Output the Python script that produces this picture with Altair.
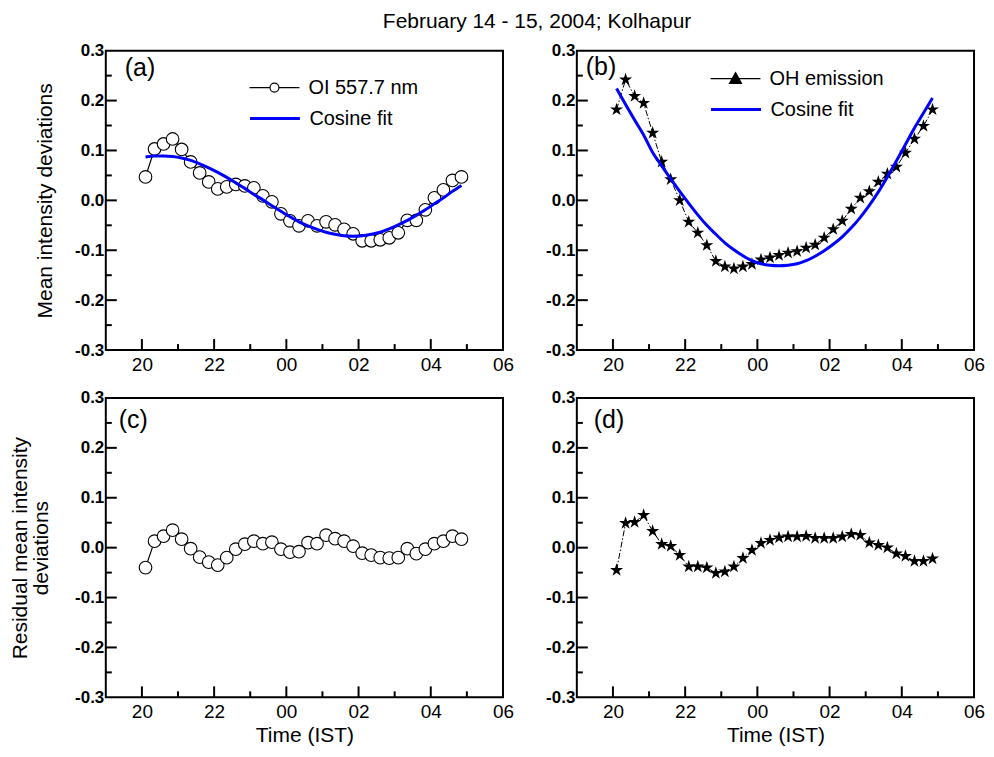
import altair as alt
import pandas as pd

FONT = "Liberation Sans"

# ---------------- data ----------------
times = [20.10, 20.35, 20.60, 20.85, 21.10, 21.35, 21.60, 21.85, 22.10, 22.35, 22.60, 22.85,
         23.10, 23.35, 23.60, 23.85, 24.10, 24.35, 24.60, 24.85, 25.10, 25.35, 25.60, 25.85,
         26.10, 26.35, 26.60, 26.85, 27.10, 27.35, 27.60, 27.85, 28.10, 28.35, 28.60, 28.85]

oi_intensity = [0.047, 0.103, 0.113, 0.123, 0.102, 0.077, 0.055, 0.037, 0.023, 0.027, 0.032, 0.029,
                0.025, 0.009, -0.003, -0.027, -0.041, -0.051, -0.041, -0.051, -0.043, -0.049, -0.058, -0.067,
                -0.081, -0.081, -0.079, -0.075, -0.065, -0.040, -0.040, -0.019, 0.005, 0.021, 0.040, 0.047]

oi_cosine_fit = [0.087, 0.089, 0.089, 0.088, 0.085, 0.080, 0.073, 0.065, 0.056, 0.046, 0.035, 0.024,
                 0.012, 0.001, -0.011, -0.022, -0.033, -0.043, -0.051, -0.058, -0.064, -0.068, -0.071, -0.072,
                 -0.071, -0.068, -0.064, -0.057, -0.049, -0.040, -0.030, -0.019, -0.007, 0.005, 0.018, 0.030]

oi_residual = [-0.040, 0.013, 0.023, 0.035, 0.017, -0.002, -0.019, -0.029, -0.035, -0.020, -0.003, 0.007,
               0.013, 0.008, 0.011, -0.003, -0.009, -0.008, 0.010, 0.008, 0.025, 0.018, 0.013, 0.003,
               -0.011, -0.015, -0.020, -0.021, -0.020, -0.002, -0.012, -0.003, 0.008, 0.013, 0.023, 0.017]

oh_intensity = [0.182, 0.242, 0.209, 0.195, 0.135, 0.077, 0.042, 0.000, -0.043, -0.065, -0.090, -0.122,
                -0.133, -0.137, -0.133, -0.128, -0.119, -0.115, -0.110, -0.105, -0.102, -0.095, -0.089, -0.075,
                -0.058, -0.041, -0.017, 0.005, 0.018, 0.037, 0.053, 0.067, 0.095, 0.123, 0.149, 0.182]

oh_cosine_fit = [0.224, 0.192, 0.161, 0.131, 0.096, 0.069, 0.043, 0.018, -0.006, -0.029, -0.050, -0.068,
                 -0.085, -0.099, -0.111, -0.121, -0.127, -0.130, -0.131, -0.130, -0.127, -0.121, -0.112, -0.101,
                 -0.088, -0.073, -0.055, -0.034, -0.010, 0.017, 0.047, 0.079, 0.112, 0.145, 0.175, 0.205]

oh_residual = [-0.045, 0.049, 0.051, 0.065, 0.033, 0.007, 0.003, -0.015, -0.038, -0.038, -0.040, -0.051,
               -0.048, -0.038, -0.021, -0.005, 0.009, 0.015, 0.020, 0.022, 0.022, 0.023, 0.019, 0.019,
               0.019, 0.022, 0.027, 0.025, 0.010, 0.005, 0.000, -0.012, -0.017, -0.027, -0.027, -0.022]

x_label_values = [20, 22, 24, 26, 28, 30]
x_major_ticks = [20, 22, 24, 26, 28]
x_minor_ticks = [21, 23, 25, 27, 29]
y_label_values = [-0.3, -0.2, -0.1, 0.0, 0.1, 0.2, 0.3]
y_major_ticks = [-0.2, -0.1, 0.0, 0.1, 0.2]
y_minor_ticks = [-0.25, -0.15, -0.05, 0.05, 0.15, 0.25]

panel_tags = ["(a)", "(b)", "(c)", "(d)"]
oi_name = "OI 557.7 nm"
oh_name = "OH emission"
fit_name = "Cosine fit"
title_text = "February 14 - 15, 2004; Kolhapur"
ytitle_top = "Mean intensity deviations"
ytitle_bottom = ["Residual mean intensity", "deviations"]
xtitle = "Time (IST)"

# ---------------- styling ----------------
W, H = 398, 300
MAJ, MIN = 11, 6
BLUE = "#0000ff"

STAR = ("M0,-1L0.225,-0.309L0.951,-0.309L0.363,0.118L0.588,0.809L0,0.382"
        "L-0.588,0.809L-0.363,0.118L-0.951,-0.309L-0.225,-0.309Z")
LEG_CIRCLE = ("M-1,0L-0.18,0M0.18,0L1,0M0.18,0A0.18,0.18,0,1,1,-0.18,0"
              "A0.18,0.18,0,1,1,0.18,0Z")
LEG_TRIANGLE = "M-1,0L1,0M0,-0.24L0.24,0.19L-0.24,0.19Z"

XS = alt.Scale(domain=[19, 30], nice=False, zero=False)
YS = alt.Scale(domain=[-0.3, 0.3], nice=False, zero=False)

XLAB = "datum.value >= 24 ? '0' + (datum.value - 24) : '' + datum.value"
YLAB = "datum.value < -0.001 ? '-' + format(-datum.value, '.1f') : format(abs(datum.value), '.1f')"


def x_enc(bottom):
    kw = dict(values=x_label_values, labelExpr=XLAB, ticks=False, tickSize=0, domain=False,
              grid=False, labelFont=FONT, labelFontSize=19, labelColor="black",
              labelPadding=5, labelFlush=False, labelOverlap=False)
    if bottom:
        kw.update(title=xtitle, titleFont=FONT, titleFontSize=21, titleFontWeight="normal",
                  titleColor="black", titlePadding=3)
    else:
        kw["title"] = None
    return alt.X("t:Q", scale=XS, axis=alt.Axis(**kw))


def y_enc(title, tpad=18):
    kw = dict(values=y_label_values, labelExpr=YLAB, ticks=False, tickSize=0, domain=False,
              grid=False, labelFont=FONT, labelFontSize=17, labelFontWeight="bold",
              labelColor="black", labelPadding=2, labelFlush=False, labelOverlap=False)
    if title is not None:
        kw.update(title=title, titleFont=FONT, titleFontSize=21, titleFontWeight="normal",
                  titleColor="black", titlePadding=tpad, titleLineHeight=21)
    else:
        kw["title"] = None
    return alt.Y("v:Q", scale=YS, axis=alt.Axis(**kw))


def tick_layers(X, Y):
    dxM = pd.DataFrame({"t": x_major_ticks})
    dxm = pd.DataFrame({"t": x_minor_ticks})
    dyM = pd.DataFrame({"v": y_major_ticks})
    dym = pd.DataFrame({"v": y_minor_ticks})
    rule = dict(color="black", strokeWidth=2)
    return [
        alt.Chart(dxM).mark_rule(**rule).encode(x=X, y=alt.value(H), y2=alt.value(H - MAJ)),
        alt.Chart(dxm).mark_rule(**rule).encode(x=X, y=alt.value(H), y2=alt.value(H - MIN)),
        alt.Chart(dyM).mark_rule(**rule).encode(y=Y, x=alt.value(0), x2=alt.value(MAJ)),
        alt.Chart(dym).mark_rule(**rule).encode(y=Y, x=alt.value(0), x2=alt.value(MIN)),
    ]


def legend(x, y, stype, sw, stroke=None, fill=None):
    kw = dict(title=None, orient="none", legendX=x, legendY=y, symbolType=stype,
              symbolSize=2500, symbolStrokeWidth=sw, clipHeight=16, labelFont=FONT,
              labelFontSize=20, labelColor="black", labelOffset=8, padding=0, symbolOffset=0)
    if stroke is not None:
        kw["symbolStrokeColor"] = stroke
    if fill is not None:
        kw["symbolFillColor"] = fill
    return alt.Legend(**kw)


def tag_layer(tag, dx, base):
    return alt.Chart(pd.DataFrame({"tag": [tag]})).mark_text(
        align="left", baseline="alphabetic", fontSize=25, font=FONT, color="black"
    ).encode(text="tag:N", x=alt.value(dx), y=alt.value(base))


def panel(values, fit, kind, series, bottom, ytitle, tag, tagpos, legpos, tpad=18):
    df = pd.DataFrame({"t": times, "v": values, "series": series})
    X = x_enc(bottom)
    Y = y_enc(ytitle, tpad)
    if kind == "circle":
        line_mark = dict(color="black", strokeWidth=1.2)
        pt = alt.Chart(df).mark_point(shape="circle", size=160, filled=True, fill="white",
                                      stroke="black", strokeWidth=1.1, opacity=1)
        leg_sym, leg_fill = LEG_CIRCLE, "white"
    else:
        line_mark = dict(color="black", strokeWidth=1.0, strokeDash=[6, 2, 1.5, 2])
        pt = alt.Chart(df).mark_point(shape=STAR, size=190, filled=True, color="black",
                                      strokeWidth=0, opacity=1)
        leg_sym, leg_fill = LEG_TRIANGLE, "black"

    line_enc = dict(x=X, y=Y)
    if legpos is not None:
        line_enc["opacity"] = alt.Opacity(
            "series:N", scale=alt.Scale(domain=[series], range=[1]),
            legend=legend(legpos[0], legpos[1], leg_sym, 1.2, stroke="black", fill=leg_fill))
    layers = [alt.Chart(df).mark_line(**line_mark).encode(**line_enc)]
    layers.extend(tick_layers(X, Y))
    layers.append(pt.encode(x=X, y=Y))
    if fit is not None:
        dff = pd.DataFrame({"t": times, "v": fit, "fit": fit_name})
        layers.append(alt.Chart(dff).mark_line(strokeWidth=3, interpolate="monotone").encode(
            x=X, y=Y,
            color=alt.Color("fit:N", scale=alt.Scale(domain=[fit_name], range=[BLUE]),
                            legend=legend(legpos[0], legpos[2], "stroke", 3))))
    layers.append(tag_layer(tag, tagpos[0], tagpos[1]))
    return alt.layer(*layers).properties(width=W, height=H)


pa = panel(oi_intensity, oi_cosine_fit, "circle", oi_name, False, ytitle_top,
           panel_tags[0], (19, 25), (143, 29, 60), tpad=19)
pb = panel(oh_intensity, oh_cosine_fit, "star", oh_name, False, None,
           panel_tags[1], (9, 24), (133, 20, 51))
pc = panel(oi_residual, None, "circle", oi_name + " ", True, ytitle_bottom,
           panel_tags[2], (13, 30), None, tpad=23)
pd_ = panel(oh_residual, None, "star", oh_name + " ", True, None,
            panel_tags[3], (17, 30), None)

chart = alt.concat(
    pa, pb, pc, pd_, columns=2, spacing={"row": 48, "column": 74}, bounds="flush"
).resolve_scale(
    opacity="independent", color="independent"
).properties(
    title=alt.TitleParams(title_text, font=FONT, fontSize=21, fontWeight="normal",
                          color="black", anchor="middle", offset=9, dx=40),
    padding={"left": 0, "right": 0, "top": 2, "bottom": 0},
).configure_view(stroke="black", strokeWidth=2)

chart.save("out.html", embed_options={"renderer": "svg", "actions": False})
